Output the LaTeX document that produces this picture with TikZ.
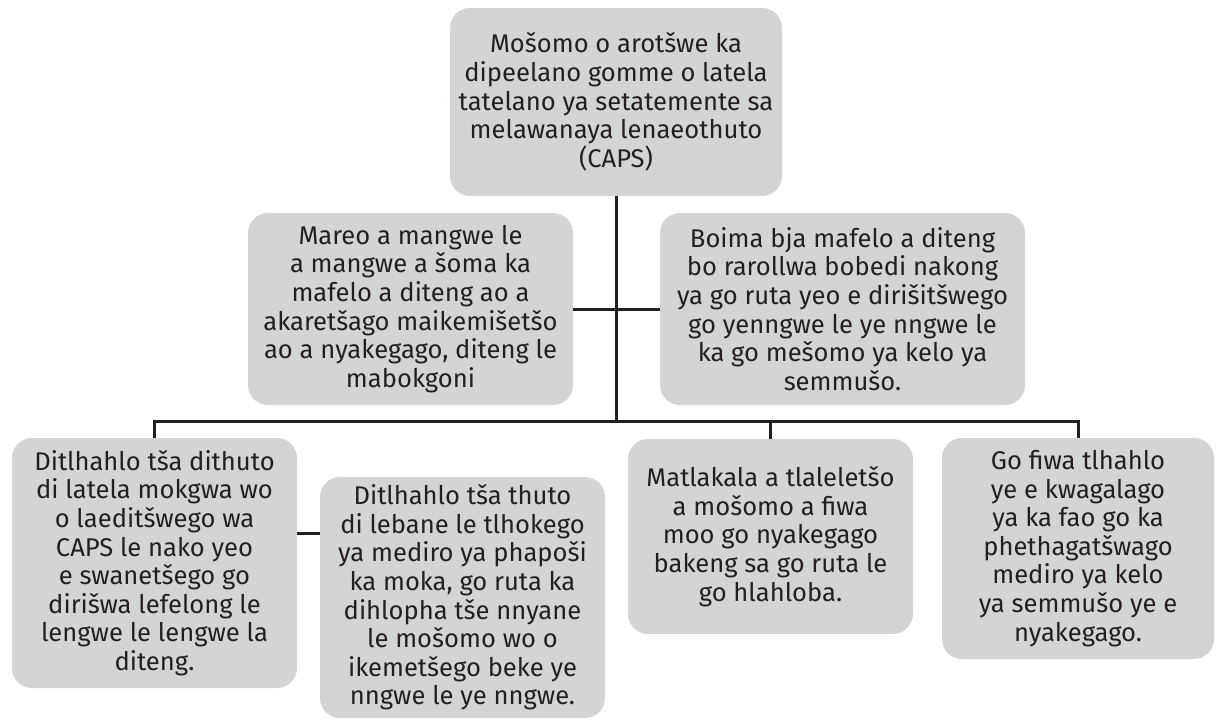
\documentclass[tikz,border=0pt]{standalone}
\usepackage{fontspec}
\setmainfont{Fira Sans}
\definecolor{boxgray}{HTML}{D3D4D6}
\definecolor{inkcol}{HTML}{231F20}
\begin{document}
\begin{tikzpicture}[x=1pt,y=-1pt,
  card/.style={fill=boxgray, draw=none, rounded corners=20pt, inner sep=0pt,
    align=center, text=inkcol, font=\fontsize{25.6}{28.6}\selectfont},
  link/.style={draw=inkcol, line width=3pt}]
\useasboundingbox (0,0) rectangle (1216,721);
\node[card, minimum width=332pt, minimum height=188pt] (top) at (616,102)
  {Mošomo o arotšwe ka\\dipeelano gomme o latela\\tatelano ya setatemente sa\\melawanaya lenaeothuto\\(CAPS)};
\node[card, minimum width=325pt, minimum height=192pt] (ml) at (410.5,309)
  {Mareo a mangwe le\\a mangwe a šoma ka\\mafelo a diteng ao a\\akaretšago maikemišetšo\\ao a nyakegago, diteng le\\mabokgoni};
\node[card, minimum width=365pt, minimum height=192pt] (mr) at (842.5,309)
  {Boima bja mafelo a diteng\\bo rarollwa bobedi nakong\\ya go ruta yeo e dirišitšwego\\go yenngwe le ye nngwe le\\ka go mešomo ya kelo ya\\semmušo.};
\node[card, minimum width=285pt, minimum height=250pt] (b1) at (154.5,563)
  {Ditlhahlo tša dithuto\\di latela mokgwa wo\\o laeditšwego wa\\CAPS le nako yeo\\e swanetšego go\\dirišwa lefelong le\\lengwe le lengwe la\\diteng.};
\node[card, minimum width=285pt, minimum height=241pt] (b2) at (462.5,597.5)
  {Ditlhahlo tša thuto\\di lebane le tlhokego\\ya mediro ya phapoši\\ka moka, go ruta ka\\dihlopha tše nnyane\\le mošomo wo o\\ikemetšego beke ye\\nngwe le ye nngwe.};
\node[card, minimum width=285pt, minimum height=195pt] (b3) at (770.5,536.5)
  {Matlakala a tlaleletšo\\a mošomo a fiwa\\moo go nyakegago\\bakeng sa go ruta le\\go hlahloba.};
\node[card, minimum width=272pt, minimum height=221pt] (b4) at (1078,548.5)
  {Go fiwa tlhahlo\\ye e kwagalago\\ya ka fao go ka\\phethagatšwago\\mediro ya kelo\\ya semmušo ye e\\nyakegago.};
\coordinate (bus) at (616,421);
\coordinate (c12) at (308,533);
\draw[link] (top.south) -- (bus);
\draw[link] (ml.east) -- (mr.west);
\draw[link] (b1.north) |- (bus) -| (b4.north);
\draw[link] (b3.north) -- (b3.north |- bus);
\draw[link] (b1.east |- c12) -- (b2.west |- c12);
\end{tikzpicture}
\end{document}
